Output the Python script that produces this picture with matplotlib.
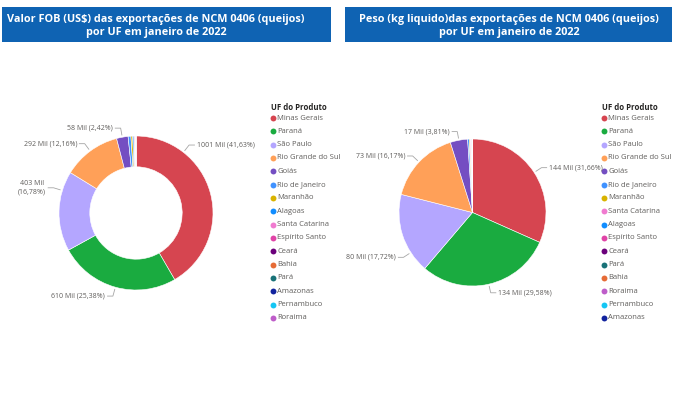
import numpy as np
import matplotlib.pyplot as plt
from matplotlib.patches import Rectangle

# Data (values in thousands - "Mil")
states_fob = ["Minas Gerais", "Paraná", "São Paulo", "Rio Grande do Sul", "Goiás",
              "Rio de Janeiro", "Maranhão", "Alagoas", "Santa Catarina", "Espírito Santo",
              "Ceará", "Bahia", "Pará", "Amazonas", "Pernambuco", "Roraima"]
fob_mil = [1000.85, 610.2, 403.4, 292.35, 58.2,
           14.0, 9.0, 6.0, 4.0, 2.5, 1.5, 1.0, 0.7, 0.4, 0.2, 0.1]

states_peso = ["Minas Gerais", "Paraná", "São Paulo", "Rio Grande do Sul", "Goiás",
               "Rio de Janeiro", "Maranhão", "Santa Catarina", "Alagoas", "Espírito Santo",
               "Ceará", "Pará", "Bahia", "Roraima", "Pernambuco", "Amazonas"]
peso_mil = [143.74, 134.29, 80.45, 73.41, 17.30,
            1.6, 1.0, 0.7, 0.5, 0.4, 0.25, 0.15, 0.1, 0.06, 0.03, 0.02]

titles = ["Valor FOB (US$) das exportações de NCM 0406 (queijos)\npor UF em janeiro de 2022",
          "Peso (kg liquido)das exportações de NCM 0406 (queijos)\npor UF em janeiro de 2022"]

colors = {
    "Minas Gerais": "#D64550", "Paraná": "#1AAB40", "São Paulo": "#B4A6FF",
    "Rio Grande do Sul": "#FFA058", "Goiás": "#744EC2", "Rio de Janeiro": "#4092FF",
    "Maranhão": "#D9B300", "Alagoas": "#118DFF", "Santa Catarina": "#F07BD0",
    "Espírito Santo": "#E044A7", "Ceará": "#6B007B", "Bahia": "#E66C37",
    "Pará": "#197278", "Amazonas": "#12239E", "Pernambuco": "#15C6F4",
    "Roraima": "#BE5DC9",
}

FONT = "Open Sans"
W, H = 679, 394
fig = plt.figure(figsize=(W / 100, H / 100), dpi=100)
over = fig.add_axes([0, 0, 1, 1])
over.set_xlim(0, W)
over.set_ylim(H, 0)
over.axis("off")

# Title bars
for (x0, x1, cx), title in zip([(2, 331, 156), (345, 672, 509)], titles):
    over.add_patch(Rectangle((x0, 7), x1 - x0, 35, color="#0F63B3", lw=0))
    over.text(cx, 26, title, ha="center", va="center", color="white",
              fontsize=7.8, fontweight="bold", family=FONT, linespacing=1.2)


def pie_axes(cx, cy, r):
    half = 1.4 * r
    ax = fig.add_axes([(cx - half) / W, (H - cy - half) / H, 2 * half / W, 2 * half / H])
    ax.set_xlim(-1.4, 1.4)
    ax.set_ylim(-1.4, 1.4)
    ax.axis("off")
    return ax


def draw_pie(ax, names, values, width, angle_override, wrap):
    ax.pie(values, colors=[colors[n] for n in names], startangle=90, counterclock=False,
           radius=1, wedgeprops=dict(width=width, edgecolor="white", linewidth=0.4))
    ax.set_xlim(-1.4, 1.4)
    ax.set_ylim(-1.4, 1.4)
    total = sum(values)
    cum = 0
    for i, v in enumerate(values):
        pct = v / total * 100
        mid = (cum + v / 2) / total * 360
        cum += v
        if pct < 2:
            continue
        ang = np.radians(angle_override.get(i, mid))
        sx, sy = np.sin(ang), np.cos(ang)
        side = 1 if sx >= 0 else -1
        x2, y2 = 1.12 * sx, 1.12 * sy
        x3 = x2 + side * 0.07
        ax.plot([1.03 * sx, x2, x3], [1.03 * sy, y2, y2], color="#A6A6A6", lw=0.6,
                clip_on=False)
        sep = "\n" if i in wrap else " "
        label = f"{v:.0f} Mil{sep}({pct:.2f}%)".replace(".", ",")
        ax.text(x3 + side * 0.03, y2, label, ha="left" if side > 0 else "right",
                va="center", fontsize=5.0, color="#605E5C", family=FONT,
                multialignment="center", clip_on=False)


def draw_legend(x, names):
    over.text(x - 2, 107, "UF do Produto", fontsize=5.6, fontweight="bold",
              color="#252423", va="center", family=FONT)
    for k, n in enumerate(names):
        y = 118 + k * 13.33
        over.scatter([x], [y], s=18, color=colors[n], linewidths=0)
        over.text(x + 4.5, y, n, fontsize=5.5, color="#605E5C", va="center", family=FONT)


ax1 = pie_axes(136, 213, 77)
draw_pie(ax1, states_fob, fob_mil, 0.4, {0: 38, 2: 287}, {2})
ax2 = pie_axes(472.5, 212.5, 73.5)
draw_pie(ax2, states_peso, peso_mil, None, {2: 237}, set())

draw_legend(272.7, states_fob)
draw_legend(604, states_peso)

fig.savefig("out.png", dpi=100)
